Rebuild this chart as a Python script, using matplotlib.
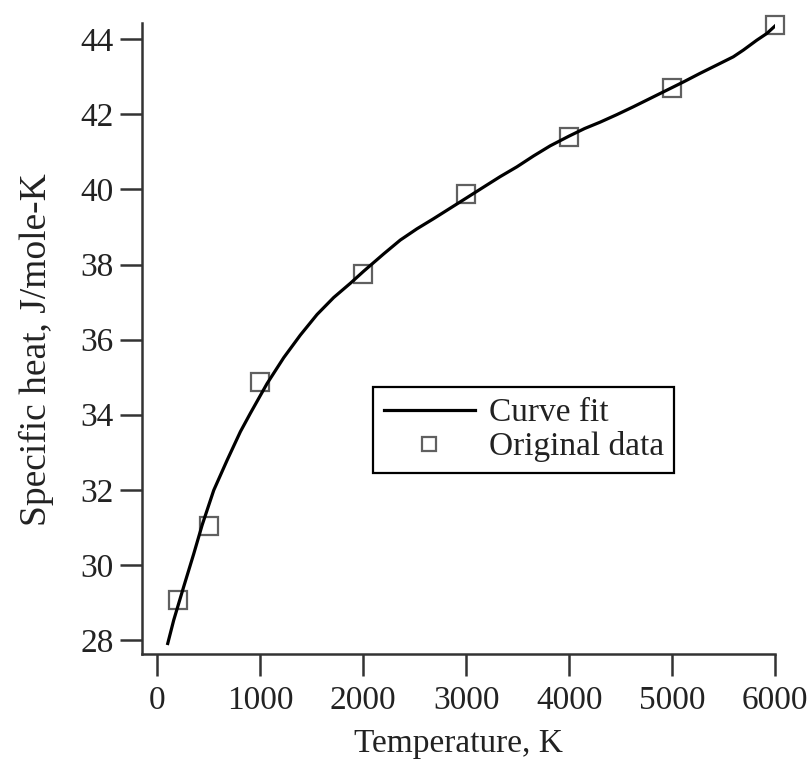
import matplotlib
matplotlib.use("Agg")
import matplotlib.pyplot as plt

# Curve fit (temperature in K, specific heat in J/mole-K)
fit_T = [100, 158, 255, 353, 434, 547, 677, 806, 903, 1065, 1227, 1388,
         1551, 1712, 1874, 2003, 2197, 2359, 2521, 2683, 2845, 3007, 3168,
         3330, 3492, 3654, 3816, 4000, 4150, 4301, 4463, 4624, 4786, 4948,
         5110, 5272, 5434, 5595, 5693, 5822, 5920, 6000]
fit_cp = [27.91, 28.53, 29.42, 30.30, 31.06, 31.99, 32.79, 33.55, 34.04,
          34.83, 35.52, 36.12, 36.67, 37.12, 37.50, 37.82, 38.28, 38.65,
          38.95, 39.22, 39.50, 39.78, 40.06, 40.34, 40.60, 40.89, 41.16,
          41.42, 41.62, 41.79, 41.99, 42.20, 42.42, 42.64, 42.86, 43.09,
          43.31, 43.53, 43.71, 43.97, 44.15, 44.35]

# Original tabulated data
data_T = [200, 500, 1000, 2000, 3000, 4000, 5000, 6000]
data_cp = [29.06, 31.04, 34.88, 37.76, 39.87, 41.39, 42.69, 44.37]

x_ticks = [0, 1000, 2000, 3000, 4000, 5000, 6000]
y_ticks = [28, 30, 32, 34, 36, 38, 40, 42, 44]

plt.rcParams['font.family'] = ['Liberation Serif', 'DejaVu Serif']

fig = plt.figure(figsize=(8.12, 7.6), dpi=100)
ax = fig.add_axes([142 / 812, 1 - 654 / 760, (775 - 142) / 812, (654 - 23) / 760])

ax.plot(fit_T, fit_cp, color='black', lw=2.3, label='Curve fit', zorder=3,
        solid_joinstyle='round')
ax.plot(data_T, data_cp, ls='none', marker='s', ms=12.5, mfc='none',
        mec='#606060', mew=1.6, label='Original data', zorder=2, clip_on=False)

ax.set_xlim(-150, 6000)
ax.set_ylim(27.63, 44.43)
ax.set_xticks(x_ticks)
ax.set_yticks(y_ticks)

for side in ('top', 'right'):
    ax.spines[side].set_visible(False)
for side in ('left', 'bottom'):
    ax.spines[side].set_linewidth(1.8)
    ax.spines[side].set_color('#333333')

ax.tick_params(axis='both', direction='out', length=15.5, width=1.8,
               color='#333333', labelsize=24, labelcolor='#222222')
ax.tick_params(axis='y', pad=5)
ax.tick_params(axis='x', pad=7.5)

ax.set_xlabel('Temperature, K', fontsize=24, labelpad=9, color='#222222')
ax.set_ylabel('Specific heat, J/mole-K', fontsize=27, color='#222222')
ax.yaxis.set_label_coords(-0.139, 0.482)

leg = ax.legend(loc='upper left', bbox_to_anchor=(373 / 812, 1 - 387 / 760),
                bbox_transform=fig.transFigure, fontsize=24, frameon=True,
                fancybox=False, edgecolor='black', framealpha=1,
                handlelength=2.75, borderaxespad=0, borderpad=0.32,
                handletextpad=0.4, labelspacing=0.1, markerscale=0.8)
leg.get_frame().set_linewidth(1.6)
for txt in leg.get_texts():
    txt.set_color('#222222')

fig.savefig('out.png', dpi=100, facecolor='white')
